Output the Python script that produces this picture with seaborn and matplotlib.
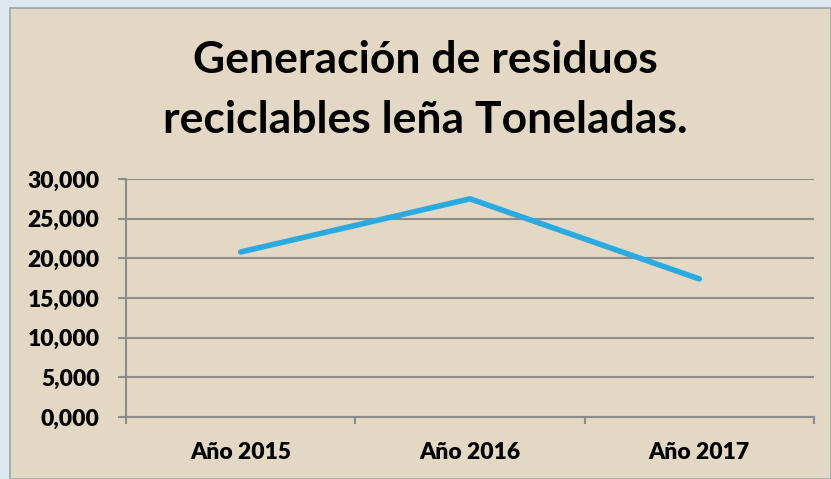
import matplotlib
matplotlib.use("Agg")
import matplotlib.pyplot as plt
import matplotlib.patches as mpatches
from matplotlib.ticker import FuncFormatter, FixedLocator
import seaborn as sns
import pandas as pd

years = ["Año 2015", "Año 2016", "Año 2017"]
toneladas = [20800, 27500, 17400]
y_ticks = [0, 5000, 10000, 15000, 20000, 25000, 30000]

df = pd.DataFrame({"anio": years, "toneladas": toneladas})

sns.set_theme(style="white")
plt.rcParams['font.family'] = ['Lato', 'DejaVu Sans']

fig = plt.figure(figsize=(8.31, 4.79), dpi=100)
fig.patch.set_facecolor("#dde8ec")

# panel behind the chart (beige, like the burlap texture)
W, H = 831, 479
panel = mpatches.Rectangle((10 / W, 0), 1 - 10 / W, 1 - 8 / H, transform=fig.transFigure,
                           facecolor="#e2d8c4", edgecolor="#9aa7ab", linewidth=1.2, zorder=-10)
fig.patches.append(panel)

ax = fig.add_axes([126 / W, 1 - 417 / H, (814 - 126) / W, (417 - 179) / H])
ax.set_facecolor("none")
ax.set_zorder(5)

sns.lineplot(data=df, x="anio", y="toneladas", ax=ax, color="#29abe2", linewidth=4, sort=False)

ax.set_xlim(-0.5, 2.5)
ax.set_ylim(0, 30000)
ax.set_yticks(y_ticks)
ax.yaxis.set_major_formatter(FuncFormatter(lambda v, p: f"{int(v) // 1000},000"))
ax.grid(axis="y", color="#8c8c8c", linewidth=1.5)
ax.set_axisbelow(True)

# category ticks between labels like excel
ax.xaxis.set_major_locator(FixedLocator([0, 1, 2]))
ax.xaxis.set_minor_locator(FixedLocator([-0.5, 0.5, 1.5, 2.5]))
ax.tick_params(axis="x", which="major", length=0, pad=18)
ax.tick_params(axis="x", which="minor", length=5, width=1.5, color="#8c8c8c", direction="out", bottom=True)
ax.tick_params(axis="y", length=6, width=1.5, color="#8c8c8c", direction="out", left=True, pad=13)

for lbl in ax.get_xticklabels() + ax.get_yticklabels():
    lbl.set_fontweight("heavy")
    lbl.set_fontsize(16.5)
    lbl.set_color("black")

for s in ["top", "right"]:
    ax.spines[s].set_visible(False)
for s in ["left", "bottom"]:
    ax.spines[s].set_color("#8c8c8c")
    ax.spines[s].set_linewidth(1.5)

ax.set_xlabel("")
ax.set_ylabel("")

fig.text(0.512, 1 - 60 / H, "Generación de residuos", ha="center", va="center",
         fontsize=32, fontweight="bold", color="black")
fig.text(0.512, 1 - 120 / H, "reciclables leña Toneladas.", ha="center", va="center",
         fontsize=32, fontweight="bold", color="black")

fig.savefig("out.png", dpi=100, facecolor=fig.get_facecolor())
